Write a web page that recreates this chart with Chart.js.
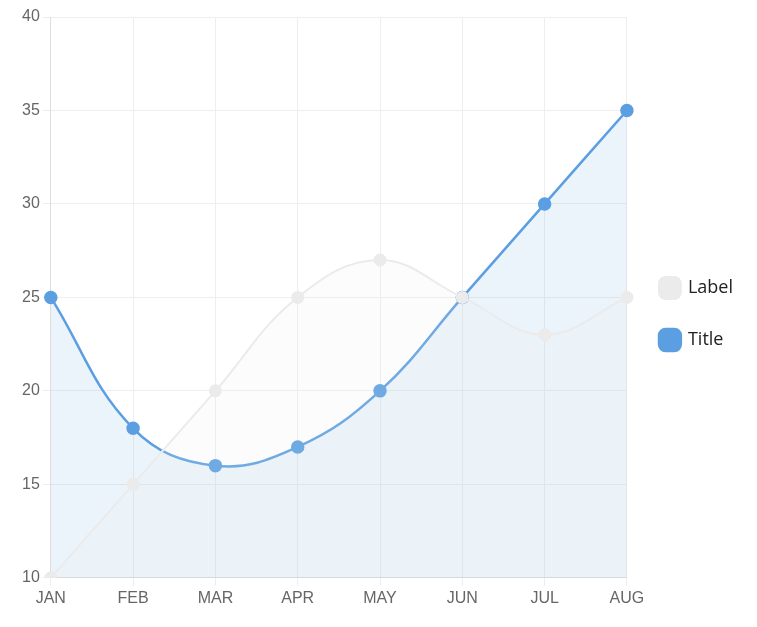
<!DOCTYPE html>
<html>
<head>
<script src="https://cdn.jsdelivr.net/npm/chart.js"></script>
<style>
  body { margin: 0; background: #fff; }
  #wrap { width: 757px; height: 627px; }
</style>
</head>
<body>
<div id="wrap"><canvas id="chart"></canvas></div>
<script>
const months = ['JAN', 'FEB', 'MAR', 'APR', 'MAY', 'JUN', 'JUL', 'AUG'];
const labelValues = [10, 15, 20, 25, 27, 25, 23, 25];
const titleValues = [25, 18, 16, 17, 20, 25, 30, 35];

new Chart(document.getElementById('chart'), {
  type: 'line',
  data: {
    labels: months,
    datasets: [{
      label: 'Label',
      data: labelValues,
      borderColor: '#ebebeb',
      backgroundColor: 'rgba(235,235,235,0.15)',
      pointBackgroundColor: '#ebebeb',
      pointBorderColor: '#ebebeb',
      fill: true,
      tension: 0.4,
      borderWidth: 2,
      pointRadius: 5.5
    }, {
      label: 'Title',
      data: titleValues,
      borderColor: '#5b9fe2',
      backgroundColor: 'rgba(91,159,226,0.12)',
      pointBackgroundColor: '#5b9fe2',
      pointBorderColor: '#5b9fe2',
      fill: true,
      tension: 0.4,
      borderWidth: 2.5,
      pointRadius: 5.5
    }]
  },
  options: {
    responsive: true,
    maintainAspectRatio: false,
    animation: false,
    layout: { padding: { left: 19, right: 14, top: 17, bottom: 16 } },
    plugins: {
      legend: {
        position: 'right',
        labels: {
          usePointStyle: true,
          pointStyle: 'rectRounded',
          boxWidth: 26,
          boxHeight: 26,
          padding: 34,
          color: '#222',
          font: { family: 'Open Sans', size: 18 }
        }
      },
      tooltip: { enabled: false }
    },
    scales: {
      x: {
        offset: false,
        grid: { color: '#eeeeee' },
        border: { color: '#dddddd' },
        ticks: { color: '#666', font: { family: 'Liberation Sans', size: 16 } }
      },
      y: {
        min: 10,
        max: 40,
        ticks: { stepSize: 5, color: '#666', font: { family: 'Liberation Sans', size: 16 } },
        grid: { color: '#eeeeee' },
        border: { color: '#dddddd' }
      }
    }
  }
});
</script>
</body>
</html>
